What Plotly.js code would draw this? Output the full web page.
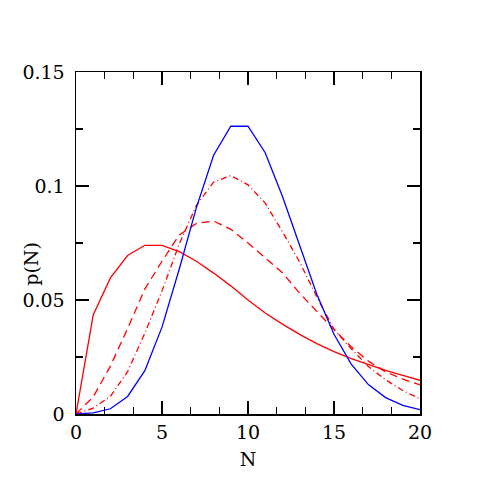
<!DOCTYPE html>
<html>
<head>
<meta charset="utf-8">
<script src="https://cdn.plot.ly/plotly-3.0.1.min.js"></script>
<style>
  html, body { margin: 0; padding: 0; background: #fff; }
  #PLOT { width: 490px; height: 490px; }
</style>
</head>
<body>
<div id="PLOT"></div>
<script>
// counts N = 0..20
var nVals = [0, 1, 2, 3, 4, 5, 6, 7, 8, 9, 10, 11, 12, 13, 14, 15, 16, 17, 18, 19, 20];

// values
var pSolid = [0, 0.0434, 0.0597, 0.0695, 0.0740, 0.0740, 0.0712, 0.0670, 0.0618, 0.0562,
  0.0500, 0.0443, 0.0394, 0.0349, 0.0309, 0.0274, 0.0243, 0.0216, 0.0191, 0.0169, 0.0148];
var pDashed = [0, 0.0075, 0.0210, 0.0375, 0.0548, 0.0670, 0.0785, 0.0836, 0.0846, 0.0810,
  0.0750, 0.0685, 0.0620, 0.0530, 0.0450, 0.0370, 0.0295, 0.0232, 0.0185, 0.0153, 0.0128];
var pDashDot = [0, 0.0026, 0.0077, 0.0186, 0.0354, 0.0540, 0.0745, 0.0915, 0.1017, 0.1046,
  0.1005, 0.0925, 0.0800, 0.0667, 0.0514, 0.0372, 0.0286, 0.0208, 0.0150, 0.0103, 0.0066];
var pBlue = [0.00005, 0.0005, 0.0023, 0.0077, 0.0190, 0.0381, 0.0635, 0.0905, 0.1135, 0.1262,
  0.1262, 0.1146, 0.0955, 0.0735, 0.0525, 0.0350, 0.0219, 0.0129, 0.0072, 0.0038, 0.0019];

var xTicks = [0, 5, 10, 15, 20];
var yTicks = [0, 0.05, 0.1, 0.15];

function line(y, color, dash) {
  return {
    x: nVals, y: y, type: 'scatter', mode: 'lines',
    line: { color: color, width: 1.3, dash: dash },
    hoverinfo: 'x+y'
  };
}

var data = [
  line(pSolid, '#ff0000', 'solid'),
  line(pDashed, '#ff0000', '8px,5px'),
  line(pDashDot, '#ff0000', '6px,3px,1px,3px'),
  line(pBlue, '#0000ff', 'solid')
];

var axisFont = { family: 'DejaVu Serif, serif', size: 19, color: '#000' };

var layout = {
  width: 490, height: 490,
  margin: { l: 76, r: 70, t: 72, b: 76 },
  paper_bgcolor: '#fff', plot_bgcolor: '#fff',
  showlegend: false,
  font: axisFont,
  xaxis: {
    range: [0, 20], tickvals: xTicks, ticks: 'inside', ticklen: 13, tickwidth: 1.2,
    tickcolor: '#000', mirror: 'allticks', showline: true, linecolor: '#000', linewidth: 1.5,
    showgrid: false, zeroline: false, tickfont: axisFont, ticklabelstandoff: 1,
    minor: { dtick: 5 / 3, ticks: 'inside', ticklen: 7, tickwidth: 1.2, tickcolor: '#000', showgrid: false },
    title: { text: 'N', font: axisFont, standoff: 10 }
  },
  yaxis: {
    range: [0, 0.15], tickvals: yTicks, ticks: 'inside', ticklen: 13, tickwidth: 1.2,
    tickcolor: '#000', mirror: 'allticks', showline: true, linecolor: '#000', linewidth: 1.5,
    showgrid: false, zeroline: false, tickfont: axisFont, ticklabelstandoff: 6,
    minor: { dtick: 0.025, ticks: 'inside', ticklen: 7, tickwidth: 1.2, tickcolor: '#000', showgrid: false }
  },
  // y title sits over the tick-label column, like the reference
  annotations: [{
    text: 'p(N)', textangle: -90, showarrow: false,
    xref: 'paper', yref: 'paper', x: -0.133, y: 0.44,
    xanchor: 'center', yanchor: 'middle', font: axisFont
  }]
};

Plotly.newPlot(document.getElementById('PLOT'), data, layout, { staticPlot: true });
</script>
</body>
</html>
